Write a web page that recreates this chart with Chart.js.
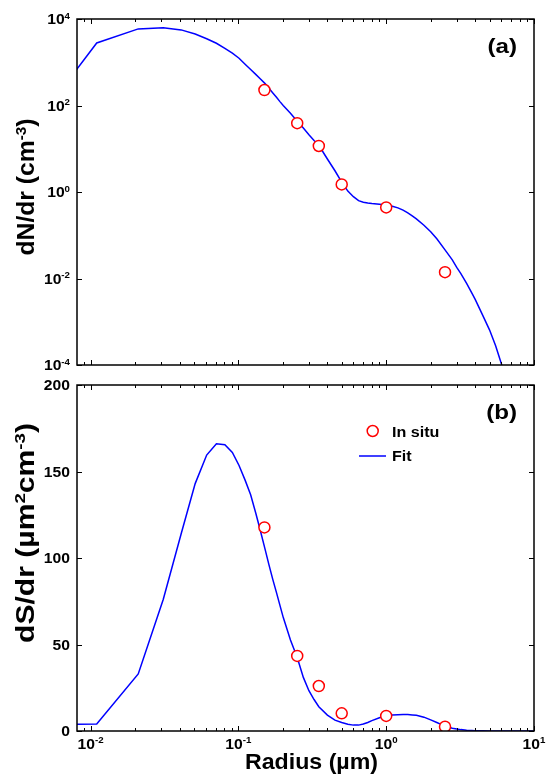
<!DOCTYPE html>
<html>
<head>
<meta charset="utf-8">
<script src="https://cdn.jsdelivr.net/npm/chart.js@4.4.0/dist/chart.umd.min.js"></script>
<style>
  html, body { margin: 0; padding: 0; background: #fff; }
  #wrap { position: relative; width: 546px; height: 776px; }
  canvas { position: absolute; left: 0; top: 0; }
</style>
</head>
<body>
<div id="wrap">
  <canvas id="chartS" width="546" height="776"></canvas>
  <canvas id="chartN" width="546" height="776"></canvas>
</div>
<script>
// radius grid of the fitted curve (um)
const fitRadius = [0.001, 0.011, 0.021, 0.031, 0.041, 0.051, 0.061, 0.071, 0.081, 0.091,
  0.101, 0.111, 0.121, 0.131, 0.141, 0.151, 0.161, 0.171, 0.181, 0.191, 0.201,
  0.225, 0.25, 0.275, 0.3, 0.325, 0.35, 0.4, 0.45, 0.5, 0.55, 0.6, 0.65, 0.7, 0.75, 0.8, 0.9, 1.0,
  1.1, 1.2, 1.3, 1.4, 1.5, 1.6, 1.8, 2.0, 2.2, 2.5, 2.8, 3.0, 3.2, 3.5, 3.8, 4.0, 4.5, 5.0, 5.5,
  6.0, 7.0, 8.0, 10.0];

// (a) number size distribution, fit
const fitDN = [0.055, 2790, 5900, 6300, 5600, 4500, 3500, 2750, 2100, 1620,
  1240, 900, 680, 525, 410, 325, 250, 195, 155, 123, 100,
  66, 43, 30, 21, 15.5, 12, 5.8, 3.1, 1.7, 1.05, 0.78, 0.63, 0.58, 0.555, 0.54, 0.52, 0.50,
  0.47, 0.43, 0.38, 0.33, 0.28, 0.24, 0.17, 0.12, 0.083, 0.046, 0.027, 0.018, 0.013, 0.0077, 0.0046, 0.0033, 0.0014, 0.00065, 0.00028,
  0.00011, 0.00002, 0.000003, 0.0000001];

// (b) surface size distribution, fit
const fitDS = [3.3, 4.0, 33, 76, 114, 143, 159.5, 166, 165.5, 161,
  153.5, 145, 136.5, 126, 115.6, 105.6, 96, 87.5, 80, 72.6, 65.7,
  52.6, 42.5, 31, 23.3, 18.2, 14, 9.2, 6.3, 4.9, 3.9, 3.4, 3.4, 4.0, 4.9, 6.0, 7.7, 9.0,
  9.3, 9.4, 9.5, 9.5, 9.3, 9.1, 8.0, 6.4, 4.9, 2.8, 1.6, 1.2, 0.8, 0.5, 0.3, 0.2, 0.08, 0.03, 0.01,
  0, 0, 0, 0];

// in situ measurements
const inSituRadius = [0.15, 0.25, 0.35, 0.5, 1.0, 2.5];
const inSituDN = [228, 39, 11.6, 1.5, 0.44, 0.014];
const inSituDS = [117.7, 43.4, 26, 10.2, 8.7, 2.5];

// axes
const X_MIN = 0.00809, X_MAX = 10;
const xTickValues = [0.01, 0.1, 1, 10];
const xTickExps = ['-2', '-1', '0', '1'];
const topYTickValues = [1e-4, 1e-2, 1, 1e2, 1e4];
const topYTickExps = ['-4', '-2', '0', '2', '4'];
const bottomYTickValues = [0, 50, 100, 150, 200];

const FONT = '"Liberation Sans", Arial, sans-serif';
const SUP = 0.62;

function partFont(size, sup) {
  return 'bold ' + (sup ? size * SUP : size) + 'px ' + FONT;
}

function richWidth(ctx, parts, size) {
  let w = 0;
  parts.forEach(([t, sup]) => { ctx.font = partFont(size, sup); w += ctx.measureText(t).width; });
  return w;
}

// text with superscripts, optionally rotated and stretched along its direction
function drawRich(ctx, parts, x, y, size, align, stretch, rotate) {
  const w = richWidth(ctx, parts, size);
  ctx.save();
  ctx.translate(x, y);
  if (rotate) ctx.rotate(-Math.PI / 2);
  ctx.scale(stretch, 1);
  let cx = align === 'right' ? -w : align === 'center' ? -w / 2 : 0;
  ctx.textAlign = 'left';
  ctx.textBaseline = 'alphabetic';
  ctx.fillStyle = '#000';
  parts.forEach(([t, sup]) => {
    ctx.font = partFont(size, sup);
    ctx.fillText(t, cx, sup ? -size * 0.36 : 0);
    cx += ctx.measureText(t).width;
  });
  ctx.restore();
}

function drawFit(ctx, parts, x, y, size, width, rotate) {
  const s = width / richWidth(ctx, parts, size);
  drawRich(ctx, parts, x, y, size, 'center', s, rotate);
}

function drawFrame(chart, yTicks) {
  const { ctx, chartArea: a, scales: { x, y } } = chart;
  ctx.save();
  ctx.strokeStyle = '#000';
  ctx.lineWidth = 1;
  ctx.beginPath();
  for (let k = -3; k <= 1; k++) {
    for (let m = 1; m <= 9; m++) {
      const v = m * Math.pow(10, k);
      if (v < X_MIN || v > X_MAX * 1.0001) continue;
      const px = Math.round(x.getPixelForValue(v)) + 0.5;
      const len = m === 1 ? 5 : 3;
      ctx.moveTo(px, a.top); ctx.lineTo(px, a.top + len);
      ctx.moveTo(px, a.bottom); ctx.lineTo(px, a.bottom - len);
    }
  }
  yTicks.forEach(v => {
    const py = Math.round(y.getPixelForValue(v)) + 0.5;
    ctx.moveTo(a.left, py); ctx.lineTo(a.left + 5, py);
    ctx.moveTo(a.right, py); ctx.lineTo(a.right - 5, py);
  });
  ctx.stroke();
  ctx.lineWidth = 1.5;
  ctx.strokeRect(a.left, a.top, a.right - a.left, a.bottom - a.top);
  ctx.restore();
}

const framePlugin = {
  id: 'frame',
  afterDraw(chart, args, opts) {
    const ctx = chart.ctx;
    const { chartArea: a, scales: { x, y } } = chart;
    drawFrame(chart, opts.yTicks);
    // y tick labels
    opts.yTicks.forEach((v, i) => {
      const py = y.getPixelForValue(v);
      const parts = opts.yExps ? [['10', false], [opts.yExps[i], true]] : [[String(v), false]];
      drawRich(ctx, parts, a.left - 7, py + 5, 14, 'right', 1.12, false);
    });
    // x tick labels
    if (opts.xLabels) {
      xTickValues.forEach((v, i) => {
        drawRich(ctx, [['10', false], [xTickExps[i], true]], x.getPixelForValue(v), a.bottom + 17.5, 14, 'center', 1.12, false);
      });
      drawFit(ctx, [['Radius (\u00b5m)', false]], 311.5, 769, 22, 133, false);
    }
    // y title
    drawFit(ctx, opts.yTitle, 34, (a.top + a.bottom) / 2 + opts.titleShift, opts.titleSize, opts.titleLen, true);
    // panel letter
    drawRich(ctx, [[opts.panel, false]], a.right - 17, a.top + 34, 21, 'right', 1.15, false);
    // legend
    if (opts.legend) {
      const ds = chart.data.datasets;
      ctx.save();
      ctx.beginPath();
      ctx.arc(372.7, 431, 5.5, 0, Math.PI * 2);
      ctx.fillStyle = '#fff';
      ctx.fill();
      ctx.strokeStyle = ds[0].pointBorderColor;
      ctx.lineWidth = 1.5;
      ctx.stroke();
      ctx.beginPath();
      ctx.moveTo(359, 456);
      ctx.lineTo(386, 456);
      ctx.strokeStyle = ds[1].borderColor;
      ctx.stroke();
      ctx.restore();
      drawRich(ctx, [[ds[0].label, false]], 392, 436.5, 14, 'left', 1.15, false);
      drawRich(ctx, [[ds[1].label, false]], 392, 461, 14, 'left', 1.15, false);
    }
  }
};

function makeData(ys, pts) {
  return {
    datasets: [{
      label: 'In situ',
      data: inSituRadius.map((r, i) => ({ x: r, y: pts[i] })),
      showLine: false,
      pointRadius: 5.5,
      pointBorderWidth: 1.5,
      pointBorderColor: '#ff0000',
      pointBackgroundColor: '#ffffff'
    }, {
      label: 'Fit',
      data: fitRadius.map((r, i) => ({ x: r, y: ys[i] })),
      borderColor: '#0000ff',
      borderWidth: 1.5,
      pointRadius: 0,
      tension: 0,
      fill: false
    }]
  };
}

function makeOptions(yType, yMin, yMax, pad, frame) {
  return {
    responsive: false,
    animation: false,
    layout: { padding: pad },
    plugins: { legend: { display: false }, tooltip: { enabled: false }, frame: frame },
    scales: {
      x: { type: 'logarithmic', min: X_MIN, max: X_MAX, display: false },
      y: { type: yType, min: yMin, max: yMax, display: false }
    }
  };
}

new Chart(document.getElementById('chartN'), {
  type: 'line',
  data: makeData(fitDN, inSituDN),
  options: makeOptions('logarithmic', 1e-4, 1e4, { left: 77, right: 12, top: 19, bottom: 411 }, {
    yTicks: topYTickValues, yExps: topYTickExps, xLabels: false, panel: '(a)',
    yTitle: [['dN/dr (cm', false], ['-3', true], [')', false]],
    titleSize: 23, titleLen: 137, titleShift: -5, legend: false
  }),
  plugins: [framePlugin]
});

new Chart(document.getElementById('chartS'), {
  type: 'line',
  data: makeData(fitDS, inSituDS),
  options: makeOptions('linear', 0, 200, { left: 77, right: 12, top: 385, bottom: 45 }, {
    yTicks: bottomYTickValues, yExps: null, xLabels: true, panel: '(b)',
    yTitle: [['dS/dr (\u00b5m', false], ['2', true], ['cm', false], ['-3', true], [')', false]],
    titleSize: 25, titleLen: 220, titleShift: -25, legend: true
  }),
  plugins: [framePlugin]
});
</script>
</body>
</html>
